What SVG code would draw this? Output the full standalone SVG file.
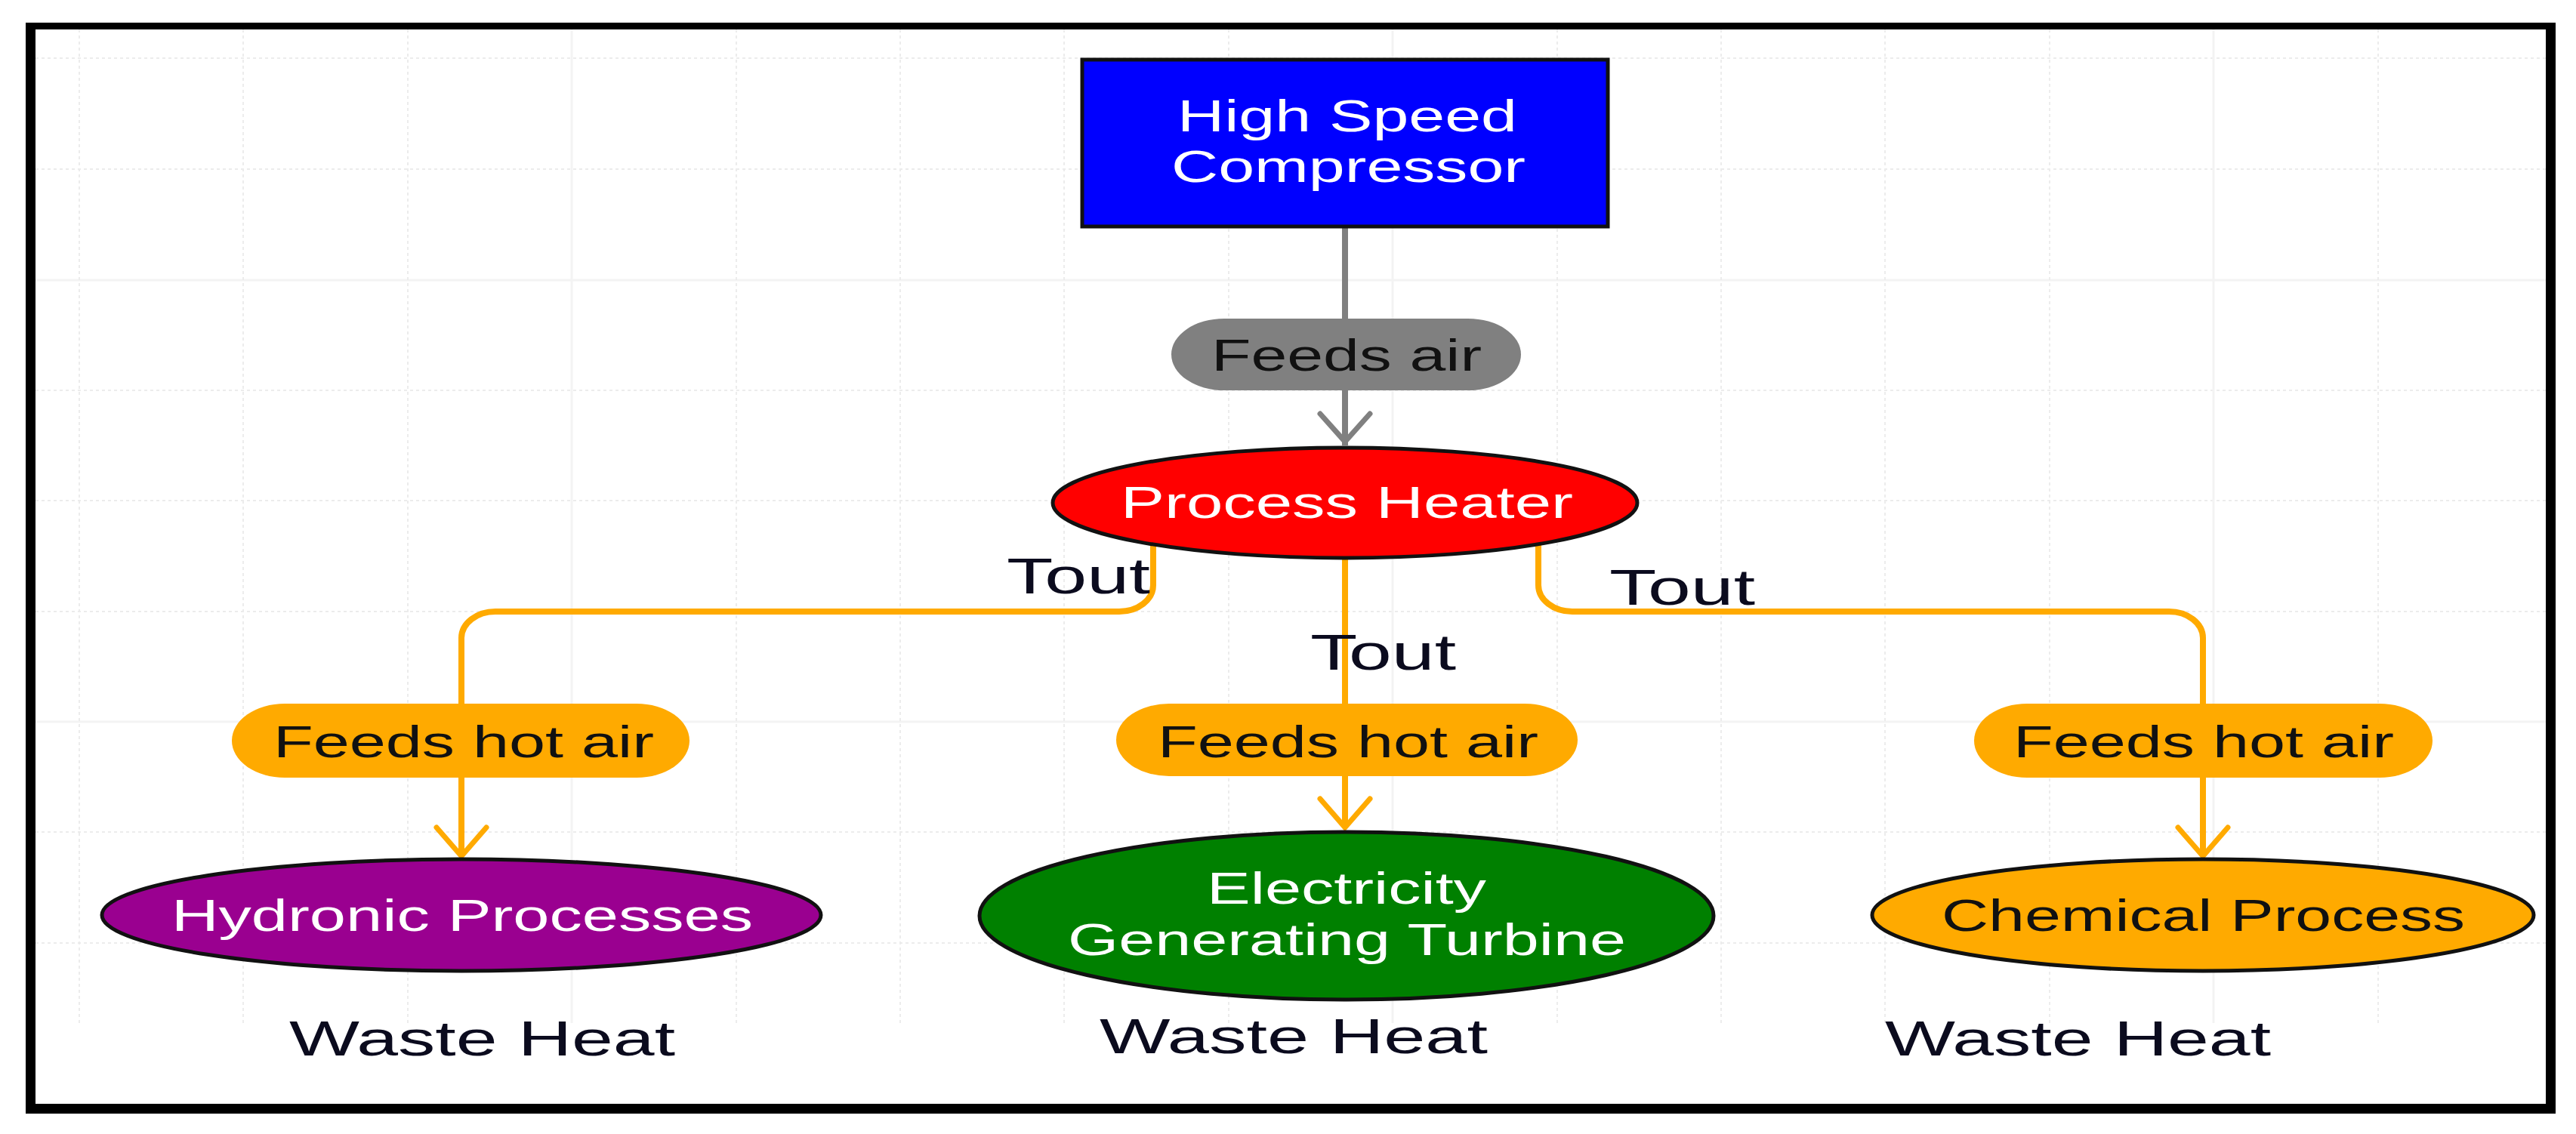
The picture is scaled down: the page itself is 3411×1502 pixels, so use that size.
<svg xmlns="http://www.w3.org/2000/svg" width="3411" height="1502" viewBox="0 0 3411 1502">
<style>
.gmin{stroke:#ececec;stroke-width:2;stroke-dasharray:4 4;fill:none}
.gmaj{stroke:#f3f3f3;stroke-width:3;fill:none}
.node{stroke:#111;stroke-width:5}
.edge{fill:none;stroke-width:8;stroke-linejoin:round}
.orange{stroke:#FFAA00}
.gray{stroke:#808080}
.head{fill:none;stroke-width:7;stroke-linecap:round;stroke-linejoin:miter}
.t{font-family:"Liberation Sans",Arial,sans-serif;font-size:60px}
.w{fill:#ffffff}
.k{fill:#111111}
.big{font-family:"Liberation Sans",Arial,sans-serif;font-size:66px;fill:#0b0b1e}
</style>
<rect x="0" y="0" width="3411" height="1502" fill="#ffffff"/>
<g id="grid">
<path class="gmin" d="M47,77H3371M47,224H3371M47,517H3371M47,663H3371M47,810H3371M47,1102H3371M47,1249H3371"/>
<path class="gmaj" d="M47,371H3371M47,956H3371"/>
<path class="gmin" d="M105,39V1355M322,39V1355M540,39V1355M975,39V1355M1192,39V1355M1409,39V1355M1627,39V1355M2062,39V1355M2279,39V1355M2496,39V1355M2714,39V1355M3149,39V1355"/>
<path class="gmaj" d="M757,39V1355M1844,39V1355M2931,39V1355"/>
</g>
<g id="frame" fill="#000000">
<rect x="34" y="30" width="3350" height="9"/>
<rect x="34" y="1462" width="3350" height="13"/>
<rect x="34" y="30" width="13" height="1445"/>
<rect x="3371" y="30" width="13" height="1445"/>
</g>
<g id="connectors">
<g id="e-feeds-air">
<path class="edge gray" d="M1781,300V590"/>
<path class="head gray" d="M1748,548L1781,585L1814,548"/>
<rect x="1551" y="422" width="463" height="95" rx="70" ry="47.5" fill="#808080"/>
<text class="t k" x="1604" y="491" textLength="358" lengthAdjust="spacingAndGlyphs">Feeds air</text>
</g>
<g id="e-left">
<path class="edge orange" d="M1527,722V775A45,35 0 0 1 1482,810H656A45,35 0 0 0 611,845V1134"/>
<path class="head orange" d="M578,1096L611,1134L644,1096"/>
<rect x="307" y="932" width="606" height="98" rx="70" ry="49" fill="#FFAA00"/>
<text class="t k" x="362" y="1003" textLength="504" lengthAdjust="spacingAndGlyphs">Feeds hot air</text>
<text class="big" x="1333" y="786" textLength="190" lengthAdjust="spacingAndGlyphs">Tout</text>
</g>
<g id="e-center">
<path class="edge orange" d="M1781,739V1096"/>
<path class="head orange" d="M1748,1058L1781,1096L1814,1058"/>
<rect x="1478" y="932" width="611" height="96" rx="70" ry="48" fill="#FFAA00"/>
<text class="t k" x="1533" y="1003" textLength="504" lengthAdjust="spacingAndGlyphs">Feeds hot air</text>
<text class="big" x="1735" y="887" textLength="193" lengthAdjust="spacingAndGlyphs">Tout</text>
</g>
<g id="e-right">
<path class="edge orange" d="M2037,722V775A45,35 0 0 0 2082,810H2872A45,35 0 0 1 2917,845V1134"/>
<path class="head orange" d="M2884,1096L2917,1134L2950,1096"/>
<rect x="2614" y="932" width="607" height="98" rx="70" ry="49" fill="#FFAA00"/>
<text class="t k" x="2666" y="1003" textLength="504" lengthAdjust="spacingAndGlyphs">Feeds hot air</text>
<text class="big" x="2131" y="801" textLength="193" lengthAdjust="spacingAndGlyphs">Tout</text>
</g>
</g>
<g id="compressor">
<rect class="node" x="1433" y="79" width="696" height="221" fill="#0000FF" stroke="#333333"/>
<text class="t w" x="1559" y="174" textLength="450" lengthAdjust="spacingAndGlyphs">High Speed</text>
<text class="t w" x="1551" y="241" textLength="469" lengthAdjust="spacingAndGlyphs">Compressor</text>
</g>
<g id="process-heater">
<ellipse class="node" cx="1781" cy="666" rx="387" ry="73" fill="#FF0000"/>
<text class="t w" x="1484" y="686" textLength="599" lengthAdjust="spacingAndGlyphs">Process Heater</text>
</g>
<g id="hydronic">
<ellipse class="node" cx="611" cy="1212" rx="476" ry="74" fill="#9A0090"/>
<text class="t w" x="227" y="1233" textLength="770" lengthAdjust="spacingAndGlyphs">Hydronic Processes</text>
</g>
<g id="turbine">
<ellipse class="node" cx="1783" cy="1213" rx="486" ry="111" fill="#008000"/>
<text class="t w" x="1598" y="1197" textLength="370" lengthAdjust="spacingAndGlyphs">Electricity</text>
<text class="t w" x="1414" y="1265" textLength="739" lengthAdjust="spacingAndGlyphs">Generating Turbine</text>
</g>
<g id="chemical">
<ellipse class="node" cx="2917" cy="1212" rx="438" ry="74" fill="#FFAA00"/>
<text class="t k" x="2571" y="1233" textLength="693" lengthAdjust="spacingAndGlyphs">Chemical Process</text>
</g>
<g id="waste-labels">
<text class="big" style="font-size:65px" x="383" y="1398" textLength="511" lengthAdjust="spacingAndGlyphs">Waste Heat</text>
<text class="big" style="font-size:65px" x="1456" y="1395" textLength="514" lengthAdjust="spacingAndGlyphs">Waste Heat</text>
<text class="big" style="font-size:65px" x="2496" y="1398" textLength="511" lengthAdjust="spacingAndGlyphs">Waste Heat</text>
</g>
</svg>
